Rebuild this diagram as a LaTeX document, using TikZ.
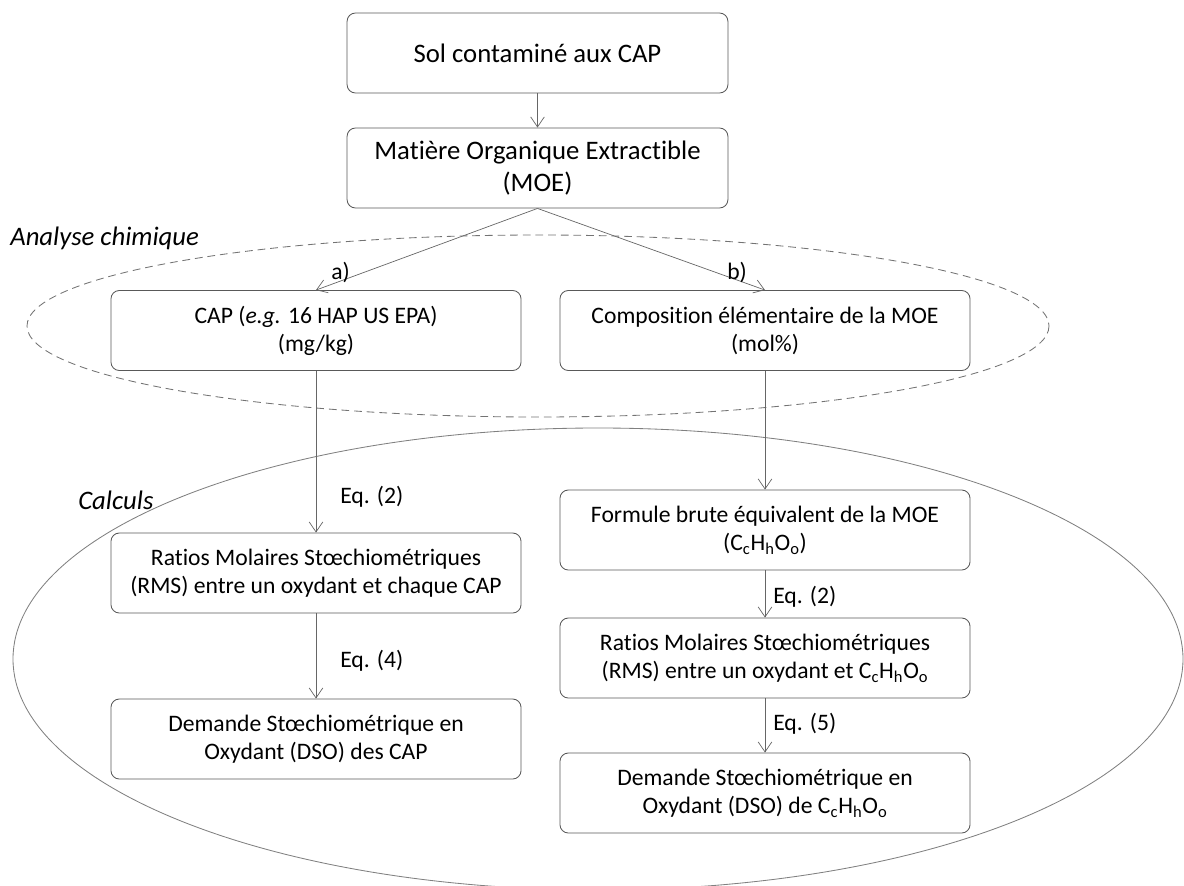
\documentclass[tikz,border=0pt]{standalone}
\usepackage{fontspec}
\setmainfont{Carlito}[Ligatures=NoCommon]
\usetikzlibrary{arrows.meta}
\newcommand{\cho}{C\textsubscript{c}H\textsubscript{h}O\textsubscript{o}}

\begin{document}
\begin{tikzpicture}[x=0.025cm, y=-0.025cm,
        box/.style={draw=black!65, line width=0.6pt, rounded corners=6pt, align=center,
            minimum width=10.25cm, minimum height=2cm, inner sep=0pt,
            font=\fontsize{16.8}{20}\selectfont},
        bigbox/.style={box, minimum width=9.52cm, font=\fontsize{19}{23}\selectfont},
        flow/.style={-{Straight Barb[length=2.5mm,width=3.4mm]}, draw=black!60, line width=0.5pt},
        lbl/.style={anchor=west, inner sep=0pt, font=\fontsize{16.8}{20}\selectfont},
        zone/.style={anchor=west, inner sep=0pt, font=\fontsize{19}{23}\selectfont\itshape}]
        \useasboundingbox (0,0) rectangle (1184,886);
        \clip (0,0) rectangle (1184,886);
        % zones
        \draw[black!55, line width=0.6pt, dash pattern=on 5.5pt off 3.5pt] (538,326) ellipse [x radius=511, y radius=91];
        \draw[black!50, line width=0.6pt] (598,659) ellipse [x radius=585, y radius=231];
        \node[zone] (analyse) at (10,238) {Analyse chimique};
        \node[zone] (calculs) at (78,500) {Calculs};
        % boxes
        \node[bigbox] (sol) at (537.5,53) {Sol contaminé aux CAP};
        \node[bigbox] (moe) at (537.5,168) {Matière Organique Extractible\\(MOE)};
        \node[box] (cap) at (316,330.5) {CAP (\textit{e.g.} 16 HAP US EPA)\\(mg/kg)};
        \node[box] (comp) at (765,330.5) {Composition élémentaire de la MOE\\(mol\%)};
        \node[box] (rmscap) at (316,573) {Ratios Molaires Stœchiométriques\\(RMS) entre un oxydant et chaque CAP};
        \node[box] (dsocap) at (316,739) {Demande Stœchiométrique en\\Oxydant (DSO) des CAP};
        \node[box] (formule) at (765,530) {Formule brute équivalent de la MOE\\(\cho)};
        \node[box] (rmscho) at (765,658) {Ratios Molaires Stœchiométriques\\(RMS) entre un oxydant et \cho};
        \node[box] (dsocho) at (765,793) {Demande Stœchiométrique en\\Oxydant (DSO) de \cho};
        % arrows
        \draw[flow] (sol) -- (moe);
        \draw[flow] (moe.south) -- (cap.north);
        \draw[flow] (moe.south) -- (comp.north);
        \draw[flow] (cap) -- (rmscap);
        \draw[flow] (rmscap) -- (dsocap);
        \draw[flow] (comp) -- (formule);
        \draw[flow] (formule) -- (rmscho);
        \draw[flow] (rmscho) -- (dsocho);
        % labels
        \node[lbl] (la) at (331,272) {a)};
        \node[lbl] (lb) at (727,272) {b)};
        \node[lbl] (eqa) at (340,497) {Eq. (2)};
        \node[lbl] (eqb) at (340,661) {Eq. (4)};
        \node[lbl] (eqc) at (773,597) {Eq. (2)};
        \node[lbl] (eqd) at (773,724) {Eq. (5)};
\end{tikzpicture}
\end{document}
